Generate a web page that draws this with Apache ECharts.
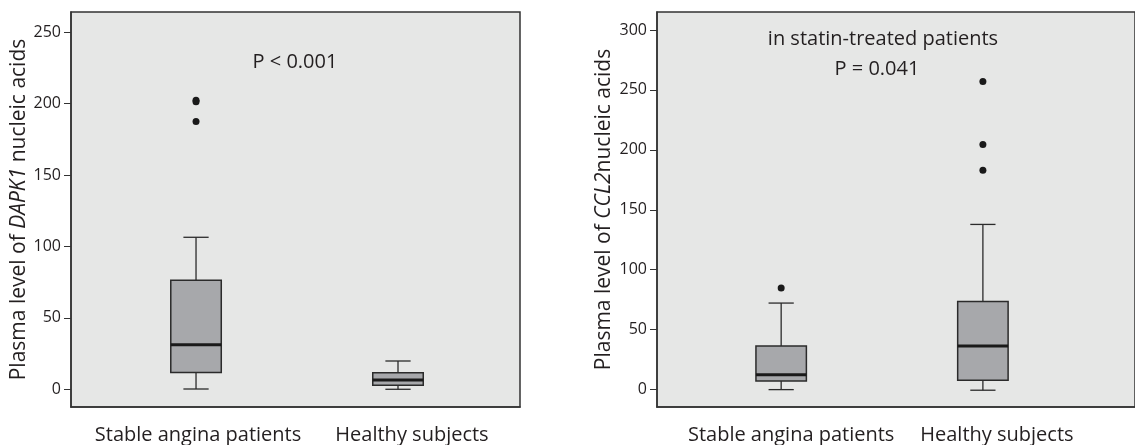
<!DOCTYPE html>
<html>
<head>
<meta charset="utf-8">
<script src="https://cdn.jsdelivr.net/npm/echarts@6/dist/echarts.min.js"></script>
<style>
html,body{margin:0;padding:0;background:#fff;}
#chart{width:1135px;height:445px;}
</style>
</head>
<body>
<div id="chart"></div>
<script>
// ---- data ----
const groups = ['Stable angina patients', 'Healthy subjects'];
// [min, Q1, median, Q3, max]
const dapk1Boxes = [
  [0.2, 11.7, 31.2, 76.3, 106.4],
  [0, 2.8, 6.5, 11.6, 19.8]
];
const dapk1Outliers = [[0, 202.4], [0, 201.2], [0, 187.5]];
const ccl2Boxes = [
  [0, 7.2, 12.5, 36.3, 72.2],
  [-0.5, 7.8, 36.3, 73.6, 137.8]
];
const ccl2Outliers = [[0, 84.7], [1, 257], [1, 204.4], [1, 183]];
const dapk1Ticks = [0, 50, 100, 150, 200, 250];
const ccl2Ticks = [0, 50, 100, 150, 200, 250, 300];

const FONT = '"Open Sans", "Noto Sans", sans-serif';
const TXT = '#231f20';

function boxData(boxes) {
  return boxes.map((b, i) => [i].concat(b));
}

function renderBox(params, api) {
  const x = api.value(0);
  const vMin = api.value(1), q1 = api.value(2), med = api.value(3), q3 = api.value(4), vMax = api.value(5);
  const pMin = api.coord([x, vMin]);
  const pQ1 = api.coord([x, q1]);
  const pMed = api.coord([x, med]);
  const pQ3 = api.coord([x, q3]);
  const pMax = api.coord([x, vMax]);
  const bw = api.size([0.25, 0])[0];
  const cw = bw / 2;
  const cx = pMed[0];
  const line = {stroke: '#2b2b2b', lineWidth: 1.3};
  return {
    type: 'group',
    children: [
      {type: 'line', shape: {x1: cx, y1: pQ3[1], x2: cx, y2: pMax[1]}, style: line},
      {type: 'line', shape: {x1: cx, y1: pQ1[1], x2: cx, y2: pMin[1]}, style: line},
      {type: 'line', shape: {x1: cx - cw / 2, y1: pMax[1], x2: cx + cw / 2, y2: pMax[1]}, style: line},
      {type: 'line', shape: {x1: cx - cw / 2, y1: pMin[1], x2: cx + cw / 2, y2: pMin[1]}, style: line},
      {type: 'rect', shape: {x: cx - bw / 2, y: pQ3[1], width: bw, height: pQ1[1] - pQ3[1]},
        style: {fill: '#a7a8ab', stroke: '#2b2b2b', lineWidth: 1.5}},
      {type: 'line', shape: {x1: cx - bw / 2, y1: pMed[1], x2: cx + bw / 2, y2: pMed[1]},
        style: {stroke: '#1a1a1a', lineWidth: 3}}
    ]
  };
}

function yAxisCfg(gridIndex, min, max, ticks, nameMain, nameItalic, nameRest, gap) {
  return {
    type: 'value', gridIndex, min, max,
    name: nameMain + '{i|' + nameItalic + '}' + nameRest,
    nameLocation: 'middle', nameGap: gap, nameRotate: 90,
    nameTextStyle: {fontSize: 21, fontFamily: FONT, color: TXT,
      rich: {i: {fontStyle: 'italic', fontSize: 21, fontFamily: FONT, color: TXT}}},
    axisLine: {show: true, onZero: false, lineStyle: {color: '#333', width: 1.5}},
    axisTick: {show: true, length: 7, customValues: ticks, lineStyle: {color: '#333', width: 1}},
    axisLabel: {customValues: ticks, fontSize: 16, fontFamily: FONT, color: TXT, margin: 10},
    splitLine: {show: false}
  };
}

function xAxisCfg(gridIndex, min, max, padA, padB) {
  return {
    type: 'value', gridIndex, min, max,
    axisLine: {show: true, onZero: false, lineStyle: {color: '#333', width: 1.5}},
    axisTick: {show: false},
    splitLine: {show: false},
    axisLabel: {
      customValues: [0, 1], margin: 18,
      formatter: v => (Math.round(v) === 0 ? '{a|' + groups[0] + '}' : '{b|' + groups[1] + '}'),
      rich: {
        a: {fontSize: 20, fontFamily: FONT, color: TXT, padding: [0, 0, 0, padA]},
        b: {fontSize: 20, fontFamily: FONT, color: TXT, padding: [0, 0, 0, padB]}
      }
    }
  };
}

const chart = echarts.init(document.getElementById('chart'), null, {renderer: 'canvas'});
chart.setOption({
  animation: false,
  backgroundColor: '#ffffff',
  grid: [
    {left: 71, top: 12, width: 449, height: 396, show: true, backgroundColor: '#e6e7e6', borderColor: '#333', borderWidth: 1.5},
    {left: 657, top: 12, width: 480, height: 396, show: true, backgroundColor: '#e6e7e6', borderColor: '#333', borderWidth: 1.5}
  ],
  xAxis: [
    xAxisCfg(0, -0.619, 1.604, 4, 28),
    xAxisCfg(1, -0.6155, 1.754, 20, 28)
  ],
  yAxis: [
    yAxisCfg(0, -12.4, 264.1, dapk1Ticks, 'Plasma level of ', 'DAPK1', ' nucleic acids', 38),
    yAxisCfg(1, -14.5, 315, ccl2Ticks, 'Plasma level of ', 'CCL2', 'nucleic acids', 42)
  ],
  series: [
    {type: 'custom', xAxisIndex: 0, yAxisIndex: 0, renderItem: renderBox, data: boxData(dapk1Boxes),
      encode: {x: 0, y: [1, 2, 3, 4, 5]}, z: 3},
    {type: 'scatter', xAxisIndex: 0, yAxisIndex: 0, data: dapk1Outliers, symbolSize: 7,
      itemStyle: {color: '#1a1a1a', opacity: 1}, z: 4},
    {type: 'custom', xAxisIndex: 1, yAxisIndex: 1, renderItem: renderBox, data: boxData(ccl2Boxes),
      encode: {x: 0, y: [1, 2, 3, 4, 5]}, z: 3},
    {type: 'scatter', xAxisIndex: 1, yAxisIndex: 1, data: ccl2Outliers, symbolSize: 7,
      itemStyle: {color: '#1a1a1a', opacity: 1}, z: 4}
  ],
  graphic: [
    {type: 'text', style: {text: 'P < 0.001', x: 295, y: 62, fontSize: 20, fontFamily: FONT, fill: TXT, align: 'center', verticalAlign: 'middle'}},
    {type: 'text', style: {text: 'in statin-treated patients', x: 883, y: 39, fontSize: 20, fontFamily: FONT, fill: TXT, align: 'center', verticalAlign: 'middle'}},
    {type: 'text', style: {text: 'P = 0.041', x: 877, y: 69, fontSize: 20, fontFamily: FONT, fill: TXT, align: 'center', verticalAlign: 'middle'}}
  ]
});
</script>
</body>
</html>
